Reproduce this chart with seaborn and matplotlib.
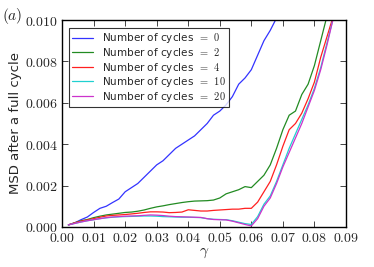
import numpy as np
import pandas as pd
import seaborn as sns
import matplotlib
matplotlib.use('Agg')
import matplotlib.pyplot as plt

# strain amplitude values
gamma = np.round(np.arange(0.002, 0.0861, 0.002), 3)

# MSD after a full cycle
msd_0 = [0.0001, 0.0002, 0.00035, 0.00048, 0.0007, 0.0009, 0.001, 0.00118, 0.00135, 0.0017,
         0.0019, 0.0021, 0.0024, 0.0027, 0.0030, 0.0032, 0.0035, 0.0038, 0.0040, 0.0042,
         0.0044, 0.0047, 0.0050, 0.0054, 0.0056, 0.0059, 0.0063, 0.0069, 0.0072, 0.0076,
         0.0083, 0.0090, 0.0095, 0.0101]
msd_2 = [0.0001, 0.0002, 0.0003, 0.00036, 0.00045, 0.00052, 0.00058, 0.00062, 0.00066, 0.0007,
         0.00072, 0.00076, 0.00082, 0.0009, 0.00097, 0.00102, 0.00108, 0.00113, 0.00118, 0.00122,
         0.00125, 0.00126, 0.00127, 0.0013, 0.0014, 0.0016, 0.0017, 0.0018, 0.00195, 0.0019,
         0.0022, 0.0025, 0.0030, 0.0038, 0.0047, 0.0054, 0.0056, 0.0064, 0.0069, 0.0078,
         0.0090, 0.0102]
msd_4 = [0.0001, 0.0002, 0.00028, 0.00034, 0.0004, 0.00047, 0.00053, 0.00056, 0.00058, 0.0006,
         0.00063, 0.00066, 0.0007, 0.00073, 0.00073, 0.00072, 0.00069, 0.0007, 0.00072, 0.00083,
         0.0008, 0.00077, 0.00077, 0.0008, 0.00082, 0.00084, 0.00086, 0.00086, 0.0009, 0.0009,
         0.0012, 0.0017, 0.0022, 0.0030, 0.0039, 0.0047, 0.0050, 0.0055, 0.0062, 0.0070,
         0.0082, 0.0092, 0.0102]
msd_10 = [0.0001, 0.00017, 0.00024, 0.0003, 0.00035, 0.0004, 0.00044, 0.00047, 0.00049, 0.0005,
          0.00051, 0.00052, 0.00053, 0.00053, 0.00052, 0.0005, 0.00049, 0.00048, 0.00047, 0.00047,
          0.00046, 0.00045, 0.0004, 0.00037, 0.00036, 0.00035, 0.0003, 0.00023, 0.00016, 0.00012,
          0.0005, 0.0011, 0.0015, 0.0022, 0.0030, 0.0038, 0.0045, 0.0052, 0.0059, 0.0067,
          0.0077, 0.0089, 0.0101]
msd_20 = [0.0001, 0.00017, 0.00024, 0.0003, 0.00035, 0.0004, 0.00045, 0.00048, 0.0005, 0.00052,
          0.00053, 0.00054, 0.00056, 0.00058, 0.00057, 0.00055, 0.00052, 0.0005, 0.00049, 0.00048,
          0.00047, 0.00046, 0.0004, 0.00036, 0.00035, 0.00034, 0.00028, 0.0002, 0.00012, 0.00005,
          0.0004, 0.001, 0.0014, 0.0021, 0.0029, 0.0036, 0.0043, 0.0050, 0.0058, 0.0066,
          0.0076, 0.0088, 0.0101]

cycles = ['0', '2', '4', '10', '20']
series = [msd_0, msd_2, msd_4, msd_10, msd_20]
colors = ['#3333ff', '#228b22', '#ff2020', '#20d0d0', '#cc33cc']

rows = []
for c, vals in zip(cycles, series):
    for g, v in zip(gamma[:len(vals)], vals):
        rows.append({'gamma': g, 'msd': v, 'cycles': r'Number of cycles $\,=\,$ $%s$' % c})
df = pd.DataFrame(rows)

sns.set_style('ticks')
plt.rcParams['mathtext.fontset'] = 'cm'
plt.rcParams['font.family'] = ['DejaVu Sans']

fig = plt.figure(figsize=(3.74, 2.67), dpi=100)
ax = fig.add_axes([0.166, 0.150, 0.759, 0.775])

sns.lineplot(data=df, x='gamma', y='msd', hue='cycles', palette=colors,
             linewidth=0.9, ax=ax, sort=False)

ax.set_xlim(0, 0.09)
ax.set_ylim(0, 0.010)
xt = np.round(np.arange(0, 0.0901, 0.01), 2)
yt = np.round(np.arange(0, 0.0101, 0.002), 3)
ax.set_xticks(xt)
ax.set_xticklabels([r'$%.2f$' % t for t in xt], fontsize=10)
ax.set_yticks(yt)
ax.set_yticklabels([r'$%.3f$' % t for t in yt], fontsize=10)
ax.tick_params(direction='in', top=True, right=True, length=4, width=0.6, pad=3)
for s in ax.spines.values():
    s.set_linewidth(1.0)
    s.set_color('black')

ax.set_xlabel(r'$\gamma$', fontsize=11, labelpad=0)
ax.set_ylabel('MSD after a full cycle', fontsize=9.5, labelpad=2)
fig.text(0.005, 0.94, r'$(a)$', fontsize=11, ha='left', va='center')

leg = ax.legend(loc='upper left', fontsize=7.5, frameon=True, fancybox=False,
                handlelength=2.0, borderpad=0.3, labelspacing=0.05,
                handletextpad=0.9, bbox_to_anchor=(0.005, 0.985))
leg.get_frame().set_edgecolor('black')
leg.get_frame().set_linewidth(0.8)

fig.savefig('out.png', dpi=100)
